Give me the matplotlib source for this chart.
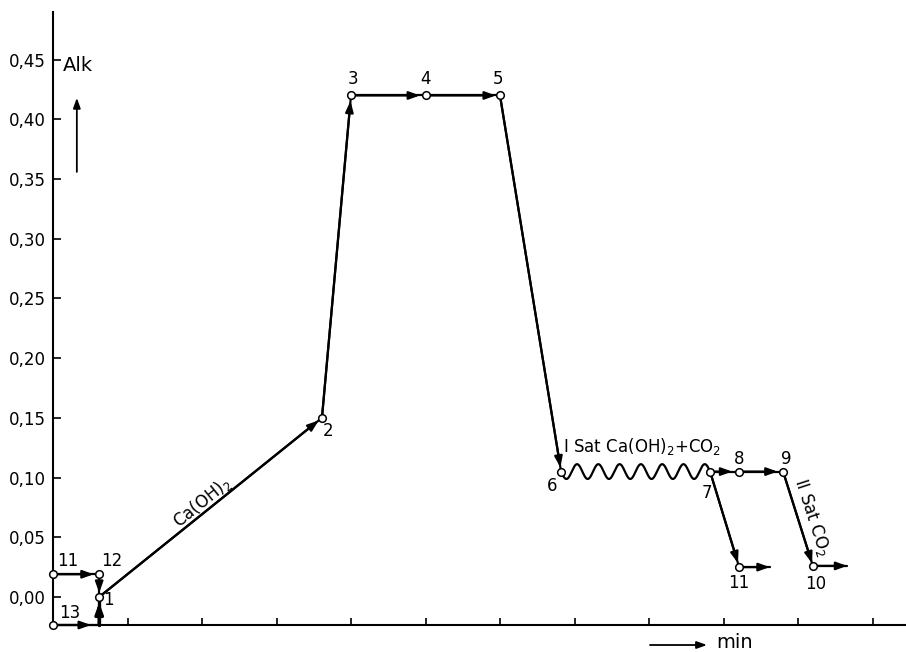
import numpy as np
import matplotlib
matplotlib.use('Agg')
import matplotlib.pyplot as plt
from matplotlib.ticker import FuncFormatter

# ---- data ----
point_labels = ['13', '11', '12', '1', '2', '3', '4', '5', '6', '7', '8', '9', '11', '10']
t_min = [0.0, 0.0, 0.62, 0.62, 3.61, 4.0, 5.0, 6.0, 6.82, 8.82, 9.21, 9.80, 9.21, 10.20]
alk = [-0.0235, 0.019, 0.019, 0.0, 0.15, 0.42, 0.42, 0.42, 0.105, 0.105, 0.105, 0.105, 0.025, 0.026]
corner_t, corner_alk = 0.62, -0.0235      # bend of the 13 -> 1 path
exit_t = [9.62, 10.66]                     # ends of the final arrows from 11 and 10
yticks = [0.00, 0.05, 0.10, 0.15, 0.20, 0.25, 0.30, 0.35, 0.40, 0.45]
xticks = [1, 2, 3, 4, 5, 6, 7, 8, 9, 10, 11]

# ---- figure ----
W, H = 906, 652
fig = plt.figure(figsize=(W / 100, H / 100), dpi=100)
ax = fig.add_axes([53 / W, 27 / H, 1 - 53 / W, 613 / H])
ax.set_xlim(0, 853 / 74.5)
ax.set_ylim(-0.0235, -0.0235 + 613 / 1194)

for s in ['top', 'right']:
    ax.spines[s].set_visible(False)
for s in ['left', 'bottom']:
    ax.spines[s].set_linewidth(1.5)

ax.set_yticks(yticks)
ax.yaxis.set_major_formatter(FuncFormatter(lambda v, p: f"{v:.2f}".replace('.', ',')))
ax.tick_params(axis='y', direction='in', length=6, width=1.2, labelsize=12, pad=5)
ax.set_xticks(xticks)
ax.set_xticklabels([])
ax.tick_params(axis='x', direction='in', length=5, width=1.2)

LW = 1.6
AST = '-|>,head_length=0.5,head_width=0.18'


def seg(i0, i1, lw=LW, shrink=3, p0=None, p1=None, head=True):
    a = p0 if p0 is not None else (t_min[i0], alk[i0])
    b = p1 if p1 is not None else (t_min[i1], alk[i1])
    ax.plot([a[0], b[0]], [a[1], b[1]], color='k', lw=lw, solid_capstyle='round',
            clip_on=False, zorder=2)
    if head:
        ax.annotate('', xy=b, xytext=a,
                    arrowprops=dict(arrowstyle=AST, lw=lw, color='k', shrinkA=0,
                                    shrinkB=shrink, mutation_scale=13),
                    annotation_clip=False, zorder=3)


corner = (corner_t, corner_alk)
seg(0, None, p1=corner, shrink=6)
seg(None, 3, p0=corner, lw=2.4, shrink=4)
seg(1, 2, shrink=4)
seg(2, 3, shrink=3)
seg(3, 4, shrink=3)
seg(4, 5, shrink=4)
seg(5, 6, shrink=4)
seg(6, 7, shrink=3)
seg(7, 8, shrink=3)
seg(9, 10, shrink=5)
seg(10, 11, shrink=4)
seg(9, 12, shrink=3)
seg(11, 13, shrink=2)
seg(12, None, p1=(exit_t[0], alk[12]), shrink=0)
seg(13, None, p1=(exit_t[1], alk[13]), shrink=0)

# wavy connector 6 -> 7 (decorative)
s = np.linspace(0, 1, 400)
wx = t_min[8] + (t_min[9] - t_min[8]) * s
wy = alk[8] - 0.0062 * np.sin(2 * np.pi * 7 * s)
ax.plot(wx, wy, color='k', lw=LW, zorder=2)

# point markers
ax.plot(t_min, alk, 'o', ms=5.5, mfc='white', mec='k', mew=1.1, ls='none',
        clip_on=False, zorder=5)

# point labels (offsets in pixels)
offs = [(6, 3, 'left', 'bottom'), (4, 4, 'left', 'bottom'), (2, 4, 'left', 'bottom'),
        (4, -3, 'left', 'center'), (1, -4, 'left', 'top'), (2, 7, 'center', 'bottom'),
        (0, 7, 'center', 'bottom'), (-2, 7, 'center', 'bottom'), (-4, -5, 'right', 'top'),
        (-3, -12, 'center', 'top'), (0, 4, 'center', 'bottom'), (3, 4, 'center', 'bottom'),
        (0, -7, 'center', 'top'), (3, -9, 'center', 'top')]
for lab, x, y, (dx, dy, ha, va) in zip(point_labels, t_min, alk, offs):
    ax.annotate(lab, (x, y), xytext=(dx, dy), textcoords='offset pixels',
                ha=ha, va=va, fontsize=12, annotation_clip=False, zorder=6)

# annotations
ax.text(2.0, 0.0796, 'Ca(OH)$_2$', rotation=39, ha='center', va='center',
        fontsize=12, rotation_mode='anchor')
ax.text(6.85, 0.1256, 'I Sat Ca(OH)$_2$+CO$_2$', ha='left', va='center', fontsize=12)
ax.text(10.19, 0.067, 'II Sat CO$_2$', rotation=-72, ha='center', va='center',
        fontsize=12, rotation_mode='anchor')
ax.text(0.13, 0.4447, 'Alk', ha='left', va='center', fontsize=14)
ax.annotate('', xy=(0.32, 0.418), xytext=(0.32, 0.356),
            arrowprops=dict(arrowstyle=AST, lw=1.3, color='k', shrinkA=0, shrinkB=0,
                            mutation_scale=12), annotation_clip=False)

fig.text(735 / W, 1 - 643 / H, 'min', ha='center', va='center', fontsize=14)
ax.annotate('', xy=(707 / W, 1 - 645 / H), xytext=(650 / W, 1 - 645 / H),
            xycoords='figure fraction', textcoords='figure fraction',
            arrowprops=dict(arrowstyle=AST, lw=1.3, color='k', shrinkA=0, shrinkB=0,
                            mutation_scale=12), annotation_clip=False)

fig.savefig('out.png', dpi=100)
